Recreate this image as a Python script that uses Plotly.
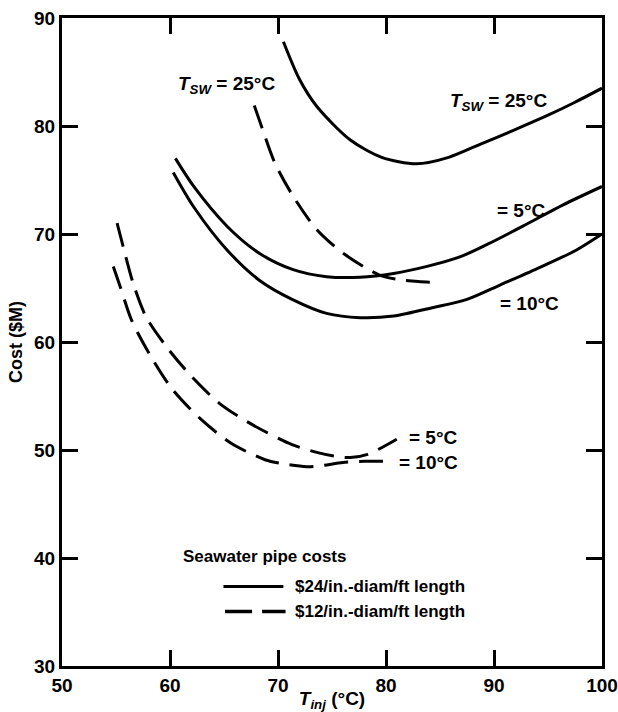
import plotly.graph_objects as go

# ---------------- data ----------------
x_ticks = [50, 60, 70, 80, 90, 100]
y_ticks = [30, 40, 50, 60, 70, 80, 90]

# $24/in.-diam/ft length (solid)
s25_x = [70.5, 72.0, 73.6, 76.7, 79.6, 82.8, 85.8, 88.7, 91.8, 95.0, 97.5, 100.0]
s25_y = [87.8, 84.3, 81.8, 78.7, 77.1, 76.5, 77.1, 78.3, 79.6, 81.0, 82.2, 83.5]

s5_x = [60.5, 62.2, 65.3, 68.3, 71.4, 74.5, 77.6, 80.7, 83.8, 86.9, 89.5, 93.0, 96.4, 100.0]
s5_y = [77.0, 74.4, 70.7, 68.2, 66.7, 66.05, 66.0, 66.35, 67.0, 67.9, 69.1, 70.9, 72.7, 74.4]

s10_x = [60.3, 62.2, 65.3, 68.3, 71.4, 74.5, 77.6, 80.7, 84.4, 87.5, 90.6, 94.0, 97.6, 100.0]
s10_y = [75.7, 72.5, 68.5, 65.7, 63.9, 62.65, 62.25, 62.4, 63.2, 63.95, 65.3, 66.8, 68.5, 70.0]

# $12/in.-diam/ft length (dashed)
d25_x = [67.8, 68.6, 69.7, 71.4, 73.6, 76.2, 79.4, 81.1, 83.0, 85.0]
d25_y = [81.9, 79.6, 76.6, 73.5, 70.4, 68.1, 66.2, 65.8, 65.6, 65.5]

d5_x = [55.1, 55.7, 56.6, 57.8, 59.8, 62.0, 64.6, 67.7, 71.3, 73.5, 75.4, 76.7, 78.3, 81.0]
d5_y = [71.0, 68.7, 65.4, 62.3, 59.4, 56.8, 54.3, 52.3, 50.5, 49.8, 49.4, 49.3, 49.6, 51.0]

d10_x = [54.75, 55.4, 56.45, 58.15, 60.16, 62.8, 65.7, 68.8, 70.2, 72.65, 74.0, 76.0, 78.0, 80.2]
d10_y = [67.0, 65.1, 62.0, 58.8, 55.7, 52.9, 50.6, 49.1, 48.77, 48.46, 48.55, 48.85, 48.95, 48.95]

legend_title = "Seawater pipe costs"
legend_labels = ["$24/in.-diam/ft length", "$12/in.-diam/ft length"]

# ---------------- figure ----------------
FONT = "Liberation Sans, Arial, sans-serif"
DASH = "24px,11px"

fig = go.Figure()

def add_curve(xs, ys, dash):
    fig.add_trace(go.Scatter(
        x=xs, y=ys, mode="lines", showlegend=False, hoverinfo="skip",
        line=dict(color="black", width=3, shape="spline", smoothing=0.8, dash=dash),
    ))

add_curve(s25_x, s25_y, "solid")
add_curve(s5_x, s5_y, "solid")
add_curve(s10_x, s10_y, "solid")
add_curve(d25_x, d25_y, DASH)
add_curve(d5_x, d5_y, DASH)
add_curve(d10_x, d10_y, DASH)

ann_font = dict(family=FONT, size=19, color="black", weight="bold")
T_SW = "<i>T</i><sub><i>SW</i></sub> = 25°C"
labels = [
    (T_SW, 85.7, 82.2),
    ("= 5°C", 90.1, 72.15),
    ("= 10°C", 90.4, 63.6),
    (T_SW, 60.6, 83.8),
    ("= 5°C", 81.9, 51.15),
    ("= 10°C", 81.0, 48.8),
]
for txt, ax, ay in labels:
    fig.add_annotation(x=ax, y=ay, xref="x", yref="y", text=txt, showarrow=False,
                       xanchor="left", yanchor="middle", font=ann_font)

# legend (drawn manually to match original key)
leg_font = dict(family=FONT, size=17, color="black", weight="bold")
fig.add_annotation(x=61.05, y=40.1, xref="x", yref="y", text=legend_title, showarrow=False,
                   xanchor="left", yanchor="middle", font=leg_font)
fig.add_annotation(x=71.4, y=37.4, xref="x", yref="y", text=legend_labels[0], showarrow=False,
                   xanchor="left", yanchor="middle", font=leg_font)
fig.add_annotation(x=71.4, y=35.05, xref="x", yref="y", text=legend_labels[1], showarrow=False,
                   xanchor="left", yanchor="middle", font=leg_font)
fig.add_shape(type="line", xref="x", yref="y", x0=64.95, x1=70.5, y0=37.35, y1=37.35,
              line=dict(color="black", width=3))
fig.add_shape(type="line", xref="x", yref="y", x0=65.1, x1=70.7, y0=35.05, y1=35.05,
              line=dict(color="black", width=3.5, dash="27px,10px"))

axis_common = dict(
    showline=True, linecolor="black", linewidth=3, mirror="ticks",
    ticks="inside", ticklen=16, tickwidth=2.5, tickcolor="black",
    showgrid=False, zeroline=False,
    tickfont=dict(family=FONT, size=19, color="black", weight="bold"),
)

fig.update_layout(
    width=618, height=712,
    margin=dict(l=62, r=16, t=18, b=46, autoexpand=False),
    paper_bgcolor="white", plot_bgcolor="white",
    font=dict(family=FONT, color="black"),
    xaxis=dict(range=[50, 100], tickvals=x_ticks, automargin=False,
               title=dict(text="<i>T<sub>inj</sub></i> (°C)", standoff=1,
                          font=dict(family=FONT, size=19, color="black", weight="bold")),
               **axis_common),
    yaxis=dict(range=[30, 90], tickvals=y_ticks, automargin=False,
               title=dict(text="Cost ($M)", standoff=7,
                          font=dict(family=FONT, size=18, color="black", weight="bold")),
               **axis_common),
)

fig.write_html("out.html")
